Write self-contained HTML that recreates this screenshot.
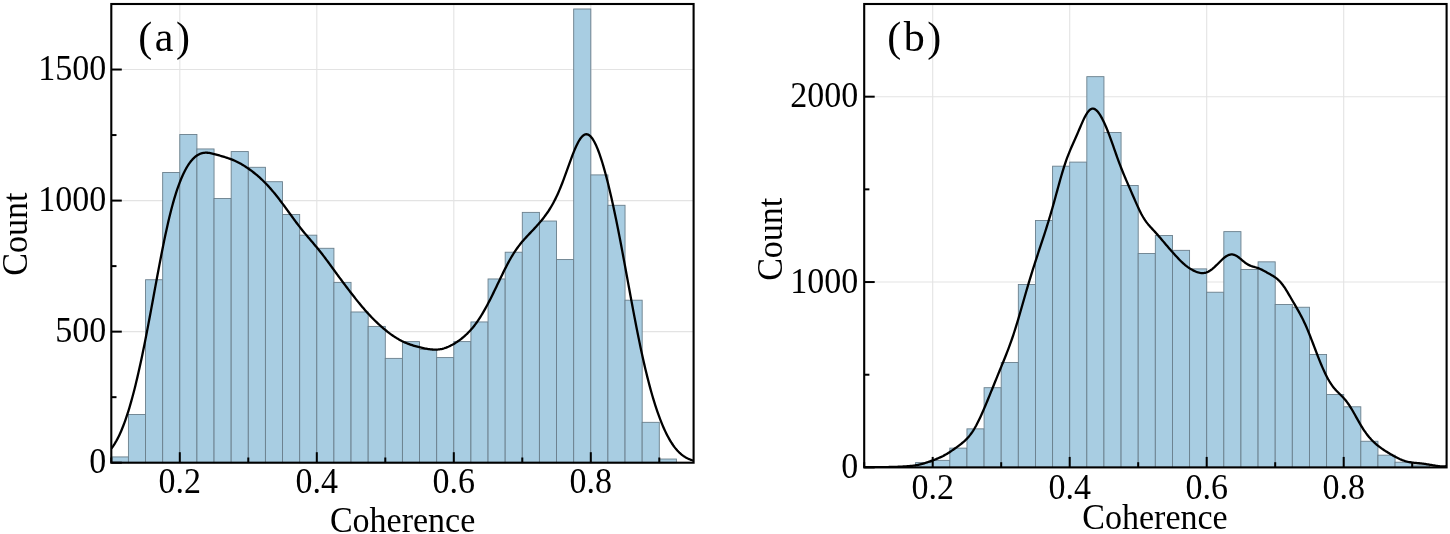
<!DOCTYPE html>
<html><head><meta charset="utf-8"><style>
html,body{margin:0;padding:0;background:#fff;}
svg{display:block;}
text{font-family:"Liberation Serif",serif;fill:#000;}
svg{will-change:transform;}
</style></head><body>
<svg width="1450" height="534" viewBox="0 0 1450 534">
<rect width="1450" height="534" fill="#fff"/>
<clipPath id="ca"><rect x="111.3" y="4.0" width="582.3000000000001" height="458.7"/></clipPath>
<g stroke="#e3e3e3" stroke-width="1.1"><line x1="179.80" y1="4.0" x2="179.80" y2="462.7"/><line x1="316.80" y1="4.0" x2="316.80" y2="462.7"/><line x1="453.80" y1="4.0" x2="453.80" y2="462.7"/><line x1="590.80" y1="4.0" x2="590.80" y2="462.7"/><line x1="111.3" y1="331.64" x2="693.6" y2="331.64"/><line x1="111.3" y1="200.59" x2="693.6" y2="200.59"/><line x1="111.3" y1="69.53" x2="693.6" y2="69.53"/></g>
<g fill="#a8cde2" stroke="#6a7f8c" stroke-width="0.9"><rect x="111.30" y="456.93" width="17.12" height="5.77"/><rect x="128.42" y="414.47" width="17.12" height="48.23"/><rect x="145.55" y="279.74" width="17.12" height="182.96"/><rect x="162.67" y="172.54" width="17.13" height="290.16"/><rect x="179.80" y="134.53" width="17.12" height="328.17"/><rect x="196.93" y="148.95" width="17.12" height="313.75"/><rect x="214.05" y="198.49" width="17.12" height="264.21"/><rect x="231.18" y="151.57" width="17.12" height="311.13"/><rect x="248.30" y="167.30" width="17.12" height="295.40"/><rect x="265.43" y="181.71" width="17.12" height="280.99"/><rect x="282.55" y="214.48" width="17.13" height="248.22"/><rect x="299.68" y="235.18" width="17.12" height="227.52"/><rect x="316.80" y="248.29" width="17.12" height="214.41"/><rect x="333.92" y="282.37" width="17.12" height="180.33"/><rect x="351.05" y="311.98" width="17.13" height="150.72"/><rect x="368.18" y="326.40" width="17.12" height="136.30"/><rect x="385.30" y="358.38" width="17.13" height="104.32"/><rect x="402.43" y="341.60" width="17.12" height="121.10"/><rect x="419.55" y="349.47" width="17.12" height="113.23"/><rect x="436.68" y="357.59" width="17.12" height="105.11"/><rect x="453.80" y="341.60" width="17.12" height="121.10"/><rect x="470.93" y="321.94" width="17.13" height="140.76"/><rect x="488.05" y="278.96" width="17.12" height="183.74"/><rect x="505.18" y="252.22" width="17.12" height="210.48"/><rect x="522.30" y="212.38" width="17.12" height="250.32"/><rect x="539.42" y="221.03" width="17.12" height="241.67"/><rect x="556.55" y="259.56" width="17.13" height="203.14"/><rect x="573.68" y="8.98" width="17.12" height="453.72"/><rect x="590.80" y="174.90" width="17.12" height="287.80"/><rect x="607.92" y="205.30" width="17.12" height="257.40"/><rect x="625.05" y="300.19" width="17.12" height="162.51"/><rect x="642.17" y="422.33" width="17.12" height="40.37"/><rect x="659.30" y="459.03" width="17.12" height="3.67"/></g>
<path clip-path="url(#ca)" d="M111.3,448.54 L112.3,447.22 L113.3,445.80 L114.3,444.29 L115.3,442.68 L116.3,440.96 L117.3,439.13 L118.3,437.19 L119.3,435.14 L120.3,432.97 L121.3,430.69 L122.3,428.28 L123.3,425.76 L124.3,423.12 L125.3,420.35 L126.3,417.46 L127.3,414.45 L128.3,411.32 L129.3,408.06 L130.3,404.68 L131.3,401.17 L132.3,397.55 L133.3,393.80 L134.3,389.94 L135.3,385.95 L136.3,381.85 L137.3,377.64 L138.3,373.31 L139.3,368.87 L140.3,364.33 L141.3,359.68 L142.3,354.93 L143.3,350.08 L144.3,345.15 L145.3,340.12 L146.3,335.02 L147.3,329.85 L148.3,324.61 L149.3,319.32 L150.3,313.97 L151.3,308.59 L152.3,303.18 L153.3,297.75 L154.3,292.31 L155.3,286.88 L156.3,281.46 L157.3,276.06 L158.3,270.71 L159.3,265.41 L160.3,260.17 L161.3,255.00 L162.3,249.92 L163.3,244.93 L164.3,240.06 L165.3,235.29 L166.3,230.65 L167.3,226.14 L168.3,221.77 L169.3,217.54 L170.3,213.45 L171.3,209.52 L172.3,205.74 L173.3,202.11 L174.3,198.64 L175.3,195.32 L176.3,192.15 L177.3,189.13 L178.3,186.26 L179.3,183.54 L180.3,180.96 L181.3,178.51 L182.3,176.20 L183.3,174.01 L184.3,171.95 L185.3,170.02 L186.3,168.20 L187.3,166.50 L188.3,164.91 L189.3,163.43 L190.3,162.06 L191.3,160.80 L192.3,159.63 L193.3,158.57 L194.3,157.60 L195.3,156.73 L196.3,155.96 L197.3,155.27 L198.3,154.68 L199.3,154.17 L200.3,153.74 L201.3,153.40 L202.3,153.13 L203.3,152.93 L204.3,152.79 L205.3,152.72 L206.3,152.71 L207.3,152.75 L208.3,152.83 L209.3,152.96 L210.3,153.12 L211.3,153.31 L212.3,153.53 L213.3,153.77 L214.3,154.03 L215.3,154.30 L216.3,154.57 L217.3,154.86 L218.3,155.15 L219.3,155.44 L220.3,155.74 L221.3,156.03 L222.3,156.33 L223.3,156.64 L224.3,156.94 L225.3,157.25 L226.3,157.57 L227.3,157.89 L228.3,158.23 L229.3,158.57 L230.3,158.93 L231.3,159.30 L232.3,159.69 L233.3,160.10 L234.3,160.53 L235.3,160.98 L236.3,161.44 L237.3,161.93 L238.3,162.44 L239.3,162.96 L240.3,163.51 L241.3,164.08 L242.3,164.66 L243.3,165.27 L244.3,165.89 L245.3,166.53 L246.3,167.18 L247.3,167.85 L248.3,168.54 L249.3,169.24 L250.3,169.96 L251.3,170.70 L252.3,171.45 L253.3,172.21 L254.3,173.00 L255.3,173.80 L256.3,174.62 L257.3,175.47 L258.3,176.33 L259.3,177.21 L260.3,178.11 L261.3,179.04 L262.3,179.99 L263.3,180.96 L264.3,181.95 L265.3,182.96 L266.3,184.00 L267.3,185.06 L268.3,186.14 L269.3,187.25 L270.3,188.37 L271.3,189.52 L272.3,190.69 L273.3,191.87 L274.3,193.08 L275.3,194.30 L276.3,195.55 L277.3,196.80 L278.3,198.08 L279.3,199.37 L280.3,200.68 L281.3,202.00 L282.3,203.33 L283.3,204.67 L284.3,206.02 L285.3,207.38 L286.3,208.75 L287.3,210.13 L288.3,211.51 L289.3,212.89 L290.3,214.27 L291.3,215.65 L292.3,217.02 L293.3,218.39 L294.3,219.75 L295.3,221.10 L296.3,222.44 L297.3,223.77 L298.3,225.09 L299.3,226.38 L300.3,227.67 L301.3,228.94 L302.3,230.19 L303.3,231.43 L304.3,232.65 L305.3,233.86 L306.3,235.06 L307.3,236.24 L308.3,237.42 L309.3,238.60 L310.3,239.77 L311.3,240.94 L312.3,242.11 L313.3,243.28 L314.3,244.46 L315.3,245.65 L316.3,246.85 L317.3,248.06 L318.3,249.28 L319.3,250.52 L320.3,251.77 L321.3,253.03 L322.3,254.31 L323.3,255.61 L324.3,256.92 L325.3,258.24 L326.3,259.57 L327.3,260.92 L328.3,262.27 L329.3,263.63 L330.3,265.00 L331.3,266.37 L332.3,267.74 L333.3,269.12 L334.3,270.49 L335.3,271.87 L336.3,273.24 L337.3,274.60 L338.3,275.97 L339.3,277.33 L340.3,278.68 L341.3,280.03 L342.3,281.37 L343.3,282.71 L344.3,284.05 L345.3,285.37 L346.3,286.70 L347.3,288.02 L348.3,289.33 L349.3,290.64 L350.3,291.94 L351.3,293.23 L352.3,294.52 L353.3,295.81 L354.3,297.08 L355.3,298.35 L356.3,299.61 L357.3,300.86 L358.3,302.10 L359.3,303.33 L360.3,304.54 L361.3,305.75 L362.3,306.94 L363.3,308.11 L364.3,309.28 L365.3,310.42 L366.3,311.55 L367.3,312.66 L368.3,313.76 L369.3,314.84 L370.3,315.91 L371.3,316.95 L372.3,317.99 L373.3,319.00 L374.3,320.00 L375.3,320.98 L376.3,321.95 L377.3,322.90 L378.3,323.83 L379.3,324.75 L380.3,325.66 L381.3,326.55 L382.3,327.42 L383.3,328.28 L384.3,329.12 L385.3,329.95 L386.3,330.76 L387.3,331.56 L388.3,332.34 L389.3,333.10 L390.3,333.84 L391.3,334.57 L392.3,335.27 L393.3,335.96 L394.3,336.63 L395.3,337.27 L396.3,337.90 L397.3,338.51 L398.3,339.09 L399.3,339.66 L400.3,340.20 L401.3,340.72 L402.3,341.23 L403.3,341.71 L404.3,342.17 L405.3,342.61 L406.3,343.03 L407.3,343.44 L408.3,343.82 L409.3,344.19 L410.3,344.55 L411.3,344.89 L412.3,345.21 L413.3,345.53 L414.3,345.83 L415.3,346.12 L416.3,346.40 L417.3,346.67 L418.3,346.94 L419.3,347.19 L420.3,347.44 L421.3,347.68 L422.3,347.91 L423.3,348.13 L424.3,348.34 L425.3,348.54 L426.3,348.73 L427.3,348.90 L428.3,349.07 L429.3,349.21 L430.3,349.34 L431.3,349.44 L432.3,349.52 L433.3,349.59 L434.3,349.62 L435.3,349.63 L436.3,349.60 L437.3,349.55 L438.3,349.47 L439.3,349.35 L440.3,349.20 L441.3,349.02 L442.3,348.80 L443.3,348.54 L444.3,348.26 L445.3,347.93 L446.3,347.58 L447.3,347.19 L448.3,346.77 L449.3,346.32 L450.3,345.84 L451.3,345.33 L452.3,344.80 L453.3,344.24 L454.3,343.65 L455.3,343.03 L456.3,342.39 L457.3,341.73 L458.3,341.04 L459.3,340.32 L460.3,339.58 L461.3,338.81 L462.3,338.01 L463.3,337.19 L464.3,336.33 L465.3,335.44 L466.3,334.51 L467.3,333.55 L468.3,332.55 L469.3,331.51 L470.3,330.43 L471.3,329.31 L472.3,328.14 L473.3,326.93 L474.3,325.67 L475.3,324.36 L476.3,323.01 L477.3,321.60 L478.3,320.15 L479.3,318.64 L480.3,317.09 L481.3,315.49 L482.3,313.85 L483.3,312.16 L484.3,310.42 L485.3,308.64 L486.3,306.82 L487.3,304.96 L488.3,303.07 L489.3,301.14 L490.3,299.18 L491.3,297.19 L492.3,295.17 L493.3,293.13 L494.3,291.07 L495.3,289.00 L496.3,286.91 L497.3,284.82 L498.3,282.73 L499.3,280.64 L500.3,278.55 L501.3,276.47 L502.3,274.41 L503.3,272.37 L504.3,270.36 L505.3,268.37 L506.3,266.42 L507.3,264.50 L508.3,262.63 L509.3,260.80 L510.3,259.02 L511.3,257.29 L512.3,255.61 L513.3,253.98 L514.3,252.41 L515.3,250.89 L516.3,249.42 L517.3,248.00 L518.3,246.64 L519.3,245.32 L520.3,244.04 L521.3,242.81 L522.3,241.61 L523.3,240.44 L524.3,239.31 L525.3,238.20 L526.3,237.11 L527.3,236.03 L528.3,234.97 L529.3,233.91 L530.3,232.86 L531.3,231.81 L532.3,230.76 L533.3,229.70 L534.3,228.63 L535.3,227.54 L536.3,226.45 L537.3,225.34 L538.3,224.21 L539.3,223.06 L540.3,221.88 L541.3,220.68 L542.3,219.45 L543.3,218.19 L544.3,216.89 L545.3,215.56 L546.3,214.18 L547.3,212.75 L548.3,211.28 L549.3,209.75 L550.3,208.15 L551.3,206.49 L552.3,204.76 L553.3,202.96 L554.3,201.08 L555.3,199.11 L556.3,197.06 L557.3,194.92 L558.3,192.70 L559.3,190.39 L560.3,188.00 L561.3,185.52 L562.3,182.98 L563.3,180.36 L564.3,177.68 L565.3,174.96 L566.3,172.20 L567.3,169.41 L568.3,166.61 L569.3,163.82 L570.3,161.06 L571.3,158.34 L572.3,155.67 L573.3,153.09 L574.3,150.60 L575.3,148.23 L576.3,146.00 L577.3,143.91 L578.3,142.00 L579.3,140.27 L580.3,138.74 L581.3,137.41 L582.3,136.31 L583.3,135.44 L584.3,134.80 L585.3,134.41 L586.3,134.26 L587.3,134.36 L588.3,134.70 L589.3,135.29 L590.3,136.12 L591.3,137.19 L592.3,138.49 L593.3,140.01 L594.3,141.75 L595.3,143.70 L596.3,145.85 L597.3,148.19 L598.3,150.72 L599.3,153.42 L600.3,156.30 L601.3,159.33 L602.3,162.52 L603.3,165.86 L604.3,169.34 L605.3,172.96 L606.3,176.70 L607.3,180.58 L608.3,184.58 L609.3,188.70 L610.3,192.93 L611.3,197.28 L612.3,201.73 L613.3,206.29 L614.3,210.96 L615.3,215.72 L616.3,220.57 L617.3,225.52 L618.3,230.54 L619.3,235.65 L620.3,240.82 L621.3,246.06 L622.3,251.36 L623.3,256.71 L624.3,262.09 L625.3,267.51 L626.3,272.95 L627.3,278.40 L628.3,283.86 L629.3,289.31 L630.3,294.74 L631.3,300.14 L632.3,305.51 L633.3,310.84 L634.3,316.11 L635.3,321.32 L636.3,326.46 L637.3,331.52 L638.3,336.50 L639.3,341.39 L640.3,346.19 L641.3,350.89 L642.3,355.49 L643.3,359.98 L644.3,364.37 L645.3,368.64 L646.3,372.81 L647.3,376.86 L648.3,380.80 L649.3,384.63 L650.3,388.35 L651.3,391.96 L652.3,395.46 L653.3,398.84 L654.3,402.12 L655.3,405.29 L656.3,408.36 L657.3,411.32 L658.3,414.18 L659.3,416.93 L660.3,419.59 L661.3,422.14 L662.3,424.60 L663.3,426.96 L664.3,429.22 L665.3,431.39 L666.3,433.46 L667.3,435.44 L668.3,437.33 L669.3,439.13 L670.3,440.84 L671.3,442.47 L672.3,444.00 L673.3,445.46 L674.3,446.83 L675.3,448.12 L676.3,449.33 L677.3,450.47 L678.3,451.54 L679.3,452.53 L680.3,453.45 L681.3,454.31 L682.3,455.11 L683.3,455.85 L684.3,456.52 L685.3,457.15 L686.3,457.72 L687.3,458.25 L688.3,458.72 L689.3,459.16 L690.3,459.55 L691.3,459.91 L692.3,460.24 L693.3,460.53" fill="none" stroke="#000" stroke-width="2.3" stroke-linejoin="round"/>
<g stroke="#000" stroke-width="2"><line x1="179.80" y1="462.7" x2="179.80" y2="452.2"/><line x1="316.80" y1="462.7" x2="316.80" y2="452.2"/><line x1="453.80" y1="462.7" x2="453.80" y2="452.2"/><line x1="590.80" y1="462.7" x2="590.80" y2="452.2"/><line x1="111.30" y1="462.7" x2="111.30" y2="457.5"/><line x1="248.30" y1="462.7" x2="248.30" y2="457.5"/><line x1="385.30" y1="462.7" x2="385.30" y2="457.5"/><line x1="522.30" y1="462.7" x2="522.30" y2="457.5"/><line x1="659.30" y1="462.7" x2="659.30" y2="457.5"/><line x1="111.3" y1="462.70" x2="121.8" y2="462.70"/><line x1="111.3" y1="331.64" x2="121.8" y2="331.64"/><line x1="111.3" y1="200.59" x2="121.8" y2="200.59"/><line x1="111.3" y1="69.53" x2="121.8" y2="69.53"/><line x1="111.3" y1="397.17" x2="116.5" y2="397.17"/><line x1="111.3" y1="266.11" x2="116.5" y2="266.11"/><line x1="111.3" y1="135.06" x2="116.5" y2="135.06"/><line x1="111.3" y1="4.00" x2="116.5" y2="4.00"/></g>
<rect x="111.3" y="4.0" width="582.3000000000001" height="458.7" fill="none" stroke="#000" stroke-width="2.1"/>
<g font-size="34"><text transform="translate(179.80,492.6) scale(1,1.07)" text-anchor="middle">0.2</text><text transform="translate(316.80,492.6) scale(1,1.07)" text-anchor="middle">0.4</text><text transform="translate(453.80,492.6) scale(1,1.07)" text-anchor="middle">0.6</text><text transform="translate(590.80,492.6) scale(1,1.07)" text-anchor="middle">0.8</text><text transform="translate(106.3,473.20) scale(1,1.07)" text-anchor="end">0</text><text transform="translate(106.3,342.14) scale(1,1.07)" text-anchor="end">500</text><text transform="translate(106.3,211.09) scale(1,1.07)" text-anchor="end">1000</text><text transform="translate(106.3,80.03) scale(1,1.07)" text-anchor="end">1500</text></g>
<text x="138.3" y="51.4" font-size="42" letter-spacing="2.5">(a)</text>
<text transform="translate(402.6,532) scale(1,1.07)" font-size="34" text-anchor="middle">Coherence</text>
<text transform="translate(26.9,234.1) rotate(-90) scale(1,1.07)" font-size="34" text-anchor="middle">Count</text>
<clipPath id="cb"><rect x="864.2" y="4.0" width="582.3999999999999" height="463.4"/></clipPath>
<g stroke="#e3e3e3" stroke-width="1.1"><line x1="932.70" y1="4.0" x2="932.70" y2="467.4"/><line x1="1069.70" y1="4.0" x2="1069.70" y2="467.4"/><line x1="1206.70" y1="4.0" x2="1206.70" y2="467.4"/><line x1="1343.70" y1="4.0" x2="1343.70" y2="467.4"/><line x1="864.2" y1="282.04" x2="1446.6" y2="282.04"/><line x1="864.2" y1="96.68" x2="1446.6" y2="96.68"/></g>
<g fill="#a8cde2" stroke="#6a7f8c" stroke-width="0.9"><rect x="915.58" y="462.58" width="17.12" height="4.82"/><rect x="932.70" y="460.36" width="17.12" height="7.04"/><rect x="949.83" y="448.12" width="17.12" height="19.28"/><rect x="966.95" y="428.85" width="17.12" height="38.55"/><rect x="984.08" y="387.70" width="17.12" height="79.70"/><rect x="1001.20" y="362.49" width="17.12" height="104.91"/><rect x="1018.33" y="284.45" width="17.12" height="182.95"/><rect x="1035.45" y="220.50" width="17.12" height="246.90"/><rect x="1052.58" y="166.19" width="17.12" height="301.21"/><rect x="1069.70" y="162.11" width="17.12" height="305.29"/><rect x="1086.83" y="76.66" width="17.12" height="390.74"/><rect x="1103.95" y="132.45" width="17.12" height="334.95"/><rect x="1121.08" y="185.47" width="17.12" height="281.93"/><rect x="1138.20" y="253.49" width="17.12" height="213.91"/><rect x="1155.33" y="235.51" width="17.12" height="231.89"/><rect x="1172.45" y="250.34" width="17.12" height="217.06"/><rect x="1189.58" y="268.88" width="17.12" height="198.52"/><rect x="1206.70" y="292.23" width="17.12" height="175.17"/><rect x="1223.83" y="231.62" width="17.12" height="235.78"/><rect x="1240.95" y="269.44" width="17.12" height="197.96"/><rect x="1258.08" y="261.84" width="17.12" height="205.56"/><rect x="1275.20" y="304.47" width="17.12" height="162.93"/><rect x="1292.33" y="307.25" width="17.12" height="160.15"/><rect x="1309.45" y="354.52" width="17.12" height="112.88"/><rect x="1326.58" y="394.55" width="17.12" height="72.85"/><rect x="1343.70" y="406.79" width="17.12" height="60.61"/><rect x="1360.83" y="441.26" width="17.12" height="26.14"/><rect x="1377.95" y="455.17" width="17.12" height="12.23"/><rect x="1395.08" y="462.21" width="17.12" height="5.19"/><rect x="1412.20" y="464.99" width="17.12" height="2.41"/></g>
<path clip-path="url(#cb)" d="M864.2,467.20 L865.2,467.19 L866.2,467.18 L867.2,467.17 L868.2,467.16 L869.2,467.15 L870.2,467.14 L871.2,467.14 L872.2,467.13 L873.2,467.13 L874.2,467.12 L875.2,467.12 L876.2,467.12 L877.2,467.11 L878.2,467.11 L879.2,467.11 L880.2,467.10 L881.2,467.10 L882.2,467.10 L883.2,467.09 L884.2,467.08 L885.2,467.07 L886.2,467.06 L887.2,467.05 L888.2,467.03 L889.2,467.01 L890.2,466.99 L891.2,466.97 L892.2,466.94 L893.2,466.91 L894.2,466.88 L895.2,466.85 L896.2,466.82 L897.2,466.78 L898.2,466.74 L899.2,466.70 L900.2,466.66 L901.2,466.61 L902.2,466.56 L903.2,466.51 L904.2,466.46 L905.2,466.40 L906.2,466.33 L907.2,466.27 L908.2,466.19 L909.2,466.11 L910.2,466.01 L911.2,465.91 L912.2,465.80 L913.2,465.67 L914.2,465.54 L915.2,465.38 L916.2,465.21 L917.2,465.03 L918.2,464.83 L919.2,464.61 L920.2,464.38 L921.2,464.13 L922.2,463.87 L923.2,463.59 L924.2,463.29 L925.2,462.99 L926.2,462.67 L927.2,462.34 L928.2,462.01 L929.2,461.66 L930.2,461.31 L931.2,460.95 L932.2,460.59 L933.2,460.22 L934.2,459.84 L935.2,459.45 L936.2,459.06 L937.2,458.65 L938.2,458.24 L939.2,457.81 L940.2,457.36 L941.2,456.90 L942.2,456.41 L943.2,455.91 L944.2,455.38 L945.2,454.83 L946.2,454.26 L947.2,453.66 L948.2,453.05 L949.2,452.41 L950.2,451.76 L951.2,451.09 L952.2,450.40 L953.2,449.71 L954.2,449.00 L955.2,448.29 L956.2,447.56 L957.2,446.84 L958.2,446.10 L959.2,445.35 L960.2,444.59 L961.2,443.81 L962.2,443.01 L963.2,442.18 L964.2,441.31 L965.2,440.40 L966.2,439.44 L967.2,438.41 L968.2,437.32 L969.2,436.15 L970.2,434.89 L971.2,433.55 L972.2,432.12 L973.2,430.60 L974.2,428.98 L975.2,427.26 L976.2,425.46 L977.2,423.56 L978.2,421.59 L979.2,419.54 L980.2,417.42 L981.2,415.23 L982.2,412.99 L983.2,410.71 L984.2,408.38 L985.2,406.02 L986.2,403.62 L987.2,401.21 L988.2,398.78 L989.2,396.33 L990.2,393.88 L991.2,391.41 L992.2,388.95 L993.2,386.48 L994.2,384.01 L995.2,381.55 L996.2,379.09 L997.2,376.63 L998.2,374.18 L999.2,371.74 L1000.2,369.30 L1001.2,366.85 L1002.2,364.41 L1003.2,361.96 L1004.2,359.49 L1005.2,357.00 L1006.2,354.48 L1007.2,351.92 L1008.2,349.32 L1009.2,346.65 L1010.2,343.93 L1011.2,341.13 L1012.2,338.25 L1013.2,335.29 L1014.2,332.25 L1015.2,329.12 L1016.2,325.92 L1017.2,322.64 L1018.2,319.30 L1019.2,315.90 L1020.2,312.46 L1021.2,308.98 L1022.2,305.48 L1023.2,301.98 L1024.2,298.48 L1025.2,295.00 L1026.2,291.54 L1027.2,288.12 L1028.2,284.73 L1029.2,281.38 L1030.2,278.08 L1031.2,274.82 L1032.2,271.60 L1033.2,268.43 L1034.2,265.29 L1035.2,262.18 L1036.2,259.10 L1037.2,256.05 L1038.2,253.01 L1039.2,249.98 L1040.2,246.96 L1041.2,243.95 L1042.2,240.92 L1043.2,237.88 L1044.2,234.83 L1045.2,231.74 L1046.2,228.61 L1047.2,225.45 L1048.2,222.22 L1049.2,218.94 L1050.2,215.60 L1051.2,212.19 L1052.2,208.71 L1053.2,205.18 L1054.2,201.59 L1055.2,197.96 L1056.2,194.29 L1057.2,190.62 L1058.2,186.96 L1059.2,183.33 L1060.2,179.75 L1061.2,176.25 L1062.2,172.85 L1063.2,169.56 L1064.2,166.39 L1065.2,163.36 L1066.2,160.46 L1067.2,157.70 L1068.2,155.07 L1069.2,152.55 L1070.2,150.13 L1071.2,147.78 L1072.2,145.49 L1073.2,143.23 L1074.2,140.99 L1075.2,138.74 L1076.2,136.47 L1077.2,134.18 L1078.2,131.86 L1079.2,129.53 L1080.2,127.19 L1081.2,124.88 L1082.2,122.60 L1083.2,120.39 L1084.2,118.29 L1085.2,116.32 L1086.2,114.53 L1087.2,112.93 L1088.2,111.56 L1089.2,110.43 L1090.2,109.57 L1091.2,108.98 L1092.2,108.67 L1093.2,108.64 L1094.2,108.88 L1095.2,109.37 L1096.2,110.10 L1097.2,111.06 L1098.2,112.23 L1099.2,113.59 L1100.2,115.13 L1101.2,116.83 L1102.2,118.67 L1103.2,120.65 L1104.2,122.75 L1105.2,124.97 L1106.2,127.30 L1107.2,129.73 L1108.2,132.26 L1109.2,134.88 L1110.2,137.57 L1111.2,140.32 L1112.2,143.12 L1113.2,145.96 L1114.2,148.81 L1115.2,151.66 L1116.2,154.50 L1117.2,157.31 L1118.2,160.08 L1119.2,162.79 L1120.2,165.44 L1121.2,168.02 L1122.2,170.54 L1123.2,173.00 L1124.2,175.41 L1125.2,177.77 L1126.2,180.10 L1127.2,182.41 L1128.2,184.70 L1129.2,187.00 L1130.2,189.30 L1131.2,191.60 L1132.2,193.92 L1133.2,196.24 L1134.2,198.57 L1135.2,200.87 L1136.2,203.16 L1137.2,205.40 L1138.2,207.60 L1139.2,209.72 L1140.2,211.75 L1141.2,213.70 L1142.2,215.54 L1143.2,217.27 L1144.2,218.89 L1145.2,220.40 L1146.2,221.82 L1147.2,223.15 L1148.2,224.40 L1149.2,225.58 L1150.2,226.72 L1151.2,227.82 L1152.2,228.90 L1153.2,229.98 L1154.2,231.06 L1155.2,232.14 L1156.2,233.24 L1157.2,234.36 L1158.2,235.50 L1159.2,236.66 L1160.2,237.82 L1161.2,239.00 L1162.2,240.19 L1163.2,241.37 L1164.2,242.56 L1165.2,243.74 L1166.2,244.91 L1167.2,246.08 L1168.2,247.23 L1169.2,248.38 L1170.2,249.52 L1171.2,250.66 L1172.2,251.79 L1173.2,252.92 L1174.2,254.04 L1175.2,255.15 L1176.2,256.25 L1177.2,257.33 L1178.2,258.40 L1179.2,259.45 L1180.2,260.47 L1181.2,261.46 L1182.2,262.42 L1183.2,263.34 L1184.2,264.22 L1185.2,265.06 L1186.2,265.86 L1187.2,266.61 L1188.2,267.33 L1189.2,268.01 L1190.2,268.66 L1191.2,269.27 L1192.2,269.84 L1193.2,270.37 L1194.2,270.87 L1195.2,271.33 L1196.2,271.75 L1197.2,272.12 L1198.2,272.44 L1199.2,272.70 L1200.2,272.91 L1201.2,273.04 L1202.2,273.10 L1203.2,273.07 L1204.2,272.97 L1205.2,272.78 L1206.2,272.50 L1207.2,272.13 L1208.2,271.67 L1209.2,271.13 L1210.2,270.51 L1211.2,269.82 L1212.2,269.05 L1213.2,268.22 L1214.2,267.34 L1215.2,266.41 L1216.2,265.45 L1217.2,264.46 L1218.2,263.45 L1219.2,262.44 L1220.2,261.44 L1221.2,260.45 L1222.2,259.50 L1223.2,258.59 L1224.2,257.74 L1225.2,256.96 L1226.2,256.26 L1227.2,255.66 L1228.2,255.16 L1229.2,254.77 L1230.2,254.52 L1231.2,254.39 L1232.2,254.40 L1233.2,254.54 L1234.2,254.81 L1235.2,255.20 L1236.2,255.71 L1237.2,256.33 L1238.2,257.03 L1239.2,257.79 L1240.2,258.61 L1241.2,259.45 L1242.2,260.30 L1243.2,261.14 L1244.2,261.95 L1245.2,262.71 L1246.2,263.42 L1247.2,264.07 L1248.2,264.64 L1249.2,265.15 L1250.2,265.60 L1251.2,265.99 L1252.2,266.33 L1253.2,266.65 L1254.2,266.94 L1255.2,267.23 L1256.2,267.52 L1257.2,267.84 L1258.2,268.18 L1259.2,268.55 L1260.2,268.97 L1261.2,269.41 L1262.2,269.90 L1263.2,270.41 L1264.2,270.95 L1265.2,271.51 L1266.2,272.07 L1267.2,272.65 L1268.2,273.22 L1269.2,273.79 L1270.2,274.36 L1271.2,274.93 L1272.2,275.51 L1273.2,276.11 L1274.2,276.74 L1275.2,277.41 L1276.2,278.14 L1277.2,278.93 L1278.2,279.80 L1279.2,280.75 L1280.2,281.81 L1281.2,282.95 L1282.2,284.20 L1283.2,285.54 L1284.2,286.97 L1285.2,288.48 L1286.2,290.05 L1287.2,291.68 L1288.2,293.36 L1289.2,295.06 L1290.2,296.78 L1291.2,298.51 L1292.2,300.24 L1293.2,301.97 L1294.2,303.69 L1295.2,305.41 L1296.2,307.14 L1297.2,308.87 L1298.2,310.63 L1299.2,312.42 L1300.2,314.24 L1301.2,316.12 L1302.2,318.06 L1303.2,320.07 L1304.2,322.16 L1305.2,324.32 L1306.2,326.56 L1307.2,328.88 L1308.2,331.27 L1309.2,333.73 L1310.2,336.24 L1311.2,338.80 L1312.2,341.40 L1313.2,344.02 L1314.2,346.65 L1315.2,349.28 L1316.2,351.90 L1317.2,354.50 L1318.2,357.06 L1319.2,359.59 L1320.2,362.06 L1321.2,364.48 L1322.2,366.84 L1323.2,369.12 L1324.2,371.32 L1325.2,373.44 L1326.2,375.47 L1327.2,377.41 L1328.2,379.25 L1329.2,380.99 L1330.2,382.63 L1331.2,384.16 L1332.2,385.60 L1333.2,386.94 L1334.2,388.20 L1335.2,389.37 L1336.2,390.48 L1337.2,391.53 L1338.2,392.55 L1339.2,393.54 L1340.2,394.51 L1341.2,395.50 L1342.2,396.51 L1343.2,397.56 L1344.2,398.66 L1345.2,399.82 L1346.2,401.05 L1347.2,402.36 L1348.2,403.75 L1349.2,405.21 L1350.2,406.75 L1351.2,408.36 L1352.2,410.03 L1353.2,411.75 L1354.2,413.50 L1355.2,415.28 L1356.2,417.08 L1357.2,418.87 L1358.2,420.65 L1359.2,422.41 L1360.2,424.13 L1361.2,425.81 L1362.2,427.43 L1363.2,429.01 L1364.2,430.52 L1365.2,431.97 L1366.2,433.37 L1367.2,434.69 L1368.2,435.96 L1369.2,437.18 L1370.2,438.33 L1371.2,439.43 L1372.2,440.48 L1373.2,441.49 L1374.2,442.45 L1375.2,443.37 L1376.2,444.25 L1377.2,445.09 L1378.2,445.90 L1379.2,446.68 L1380.2,447.43 L1381.2,448.16 L1382.2,448.86 L1383.2,449.54 L1384.2,450.20 L1385.2,450.85 L1386.2,451.48 L1387.2,452.10 L1388.2,452.71 L1389.2,453.31 L1390.2,453.90 L1391.2,454.48 L1392.2,455.06 L1393.2,455.63 L1394.2,456.18 L1395.2,456.73 L1396.2,457.26 L1397.2,457.78 L1398.2,458.28 L1399.2,458.76 L1400.2,459.22 L1401.2,459.65 L1402.2,460.06 L1403.2,460.44 L1404.2,460.78 L1405.2,461.10 L1406.2,461.39 L1407.2,461.65 L1408.2,461.88 L1409.2,462.08 L1410.2,462.25 L1411.2,462.41 L1412.2,462.55 L1413.2,462.67 L1414.2,462.78 L1415.2,462.88 L1416.2,462.97 L1417.2,463.06 L1418.2,463.16 L1419.2,463.25 L1420.2,463.35 L1421.2,463.46 L1422.2,463.58 L1423.2,463.70 L1424.2,463.84 L1425.2,463.98 L1426.2,464.13 L1427.2,464.29 L1428.2,464.46 L1429.2,464.63 L1430.2,464.80 L1431.2,464.98 L1432.2,465.15 L1433.2,465.33 L1434.2,465.50 L1435.2,465.66 L1436.2,465.82 L1437.2,465.97 L1438.2,466.11 L1439.2,466.23 L1440.2,466.34 L1441.2,466.42 L1442.2,466.47 L1443.2,466.48 L1444.2,466.43 L1445.2,466.29 L1446.2,466.04" fill="none" stroke="#000" stroke-width="2.3" stroke-linejoin="round"/>
<g stroke="#000" stroke-width="2"><line x1="932.70" y1="467.4" x2="932.70" y2="456.9"/><line x1="1069.70" y1="467.4" x2="1069.70" y2="456.9"/><line x1="1206.70" y1="467.4" x2="1206.70" y2="456.9"/><line x1="1343.70" y1="467.4" x2="1343.70" y2="456.9"/><line x1="864.20" y1="467.4" x2="864.20" y2="462.2"/><line x1="1001.20" y1="467.4" x2="1001.20" y2="462.2"/><line x1="1138.20" y1="467.4" x2="1138.20" y2="462.2"/><line x1="1275.20" y1="467.4" x2="1275.20" y2="462.2"/><line x1="1412.20" y1="467.4" x2="1412.20" y2="462.2"/><line x1="864.2" y1="467.40" x2="874.7" y2="467.40"/><line x1="864.2" y1="282.04" x2="874.7" y2="282.04"/><line x1="864.2" y1="96.68" x2="874.7" y2="96.68"/><line x1="864.2" y1="374.72" x2="869.4000000000001" y2="374.72"/><line x1="864.2" y1="189.36" x2="869.4000000000001" y2="189.36"/><line x1="864.2" y1="4.00" x2="869.4000000000001" y2="4.00"/></g>
<rect x="864.2" y="4.0" width="582.3999999999999" height="463.4" fill="none" stroke="#000" stroke-width="2.1"/>
<g font-size="34"><text transform="translate(932.70,499.1) scale(1,1.07)" text-anchor="middle">0.2</text><text transform="translate(1069.70,499.1) scale(1,1.07)" text-anchor="middle">0.4</text><text transform="translate(1206.70,499.1) scale(1,1.07)" text-anchor="middle">0.6</text><text transform="translate(1343.70,499.1) scale(1,1.07)" text-anchor="middle">0.8</text><text transform="translate(858.2,477.90) scale(1,1.07)" text-anchor="end">0</text><text transform="translate(858.2,292.54) scale(1,1.07)" text-anchor="end">1000</text><text transform="translate(858.2,107.18) scale(1,1.07)" text-anchor="end">2000</text></g>
<text x="887.3" y="51.4" font-size="42" letter-spacing="2.5">(b)</text>
<text transform="translate(1155,528.6) scale(1,1.07)" font-size="34" text-anchor="middle">Coherence</text>
<text transform="translate(781.5,239.3) rotate(-90) scale(1,1.07)" font-size="34" text-anchor="middle">Count</text>
</svg>
</body></html>
